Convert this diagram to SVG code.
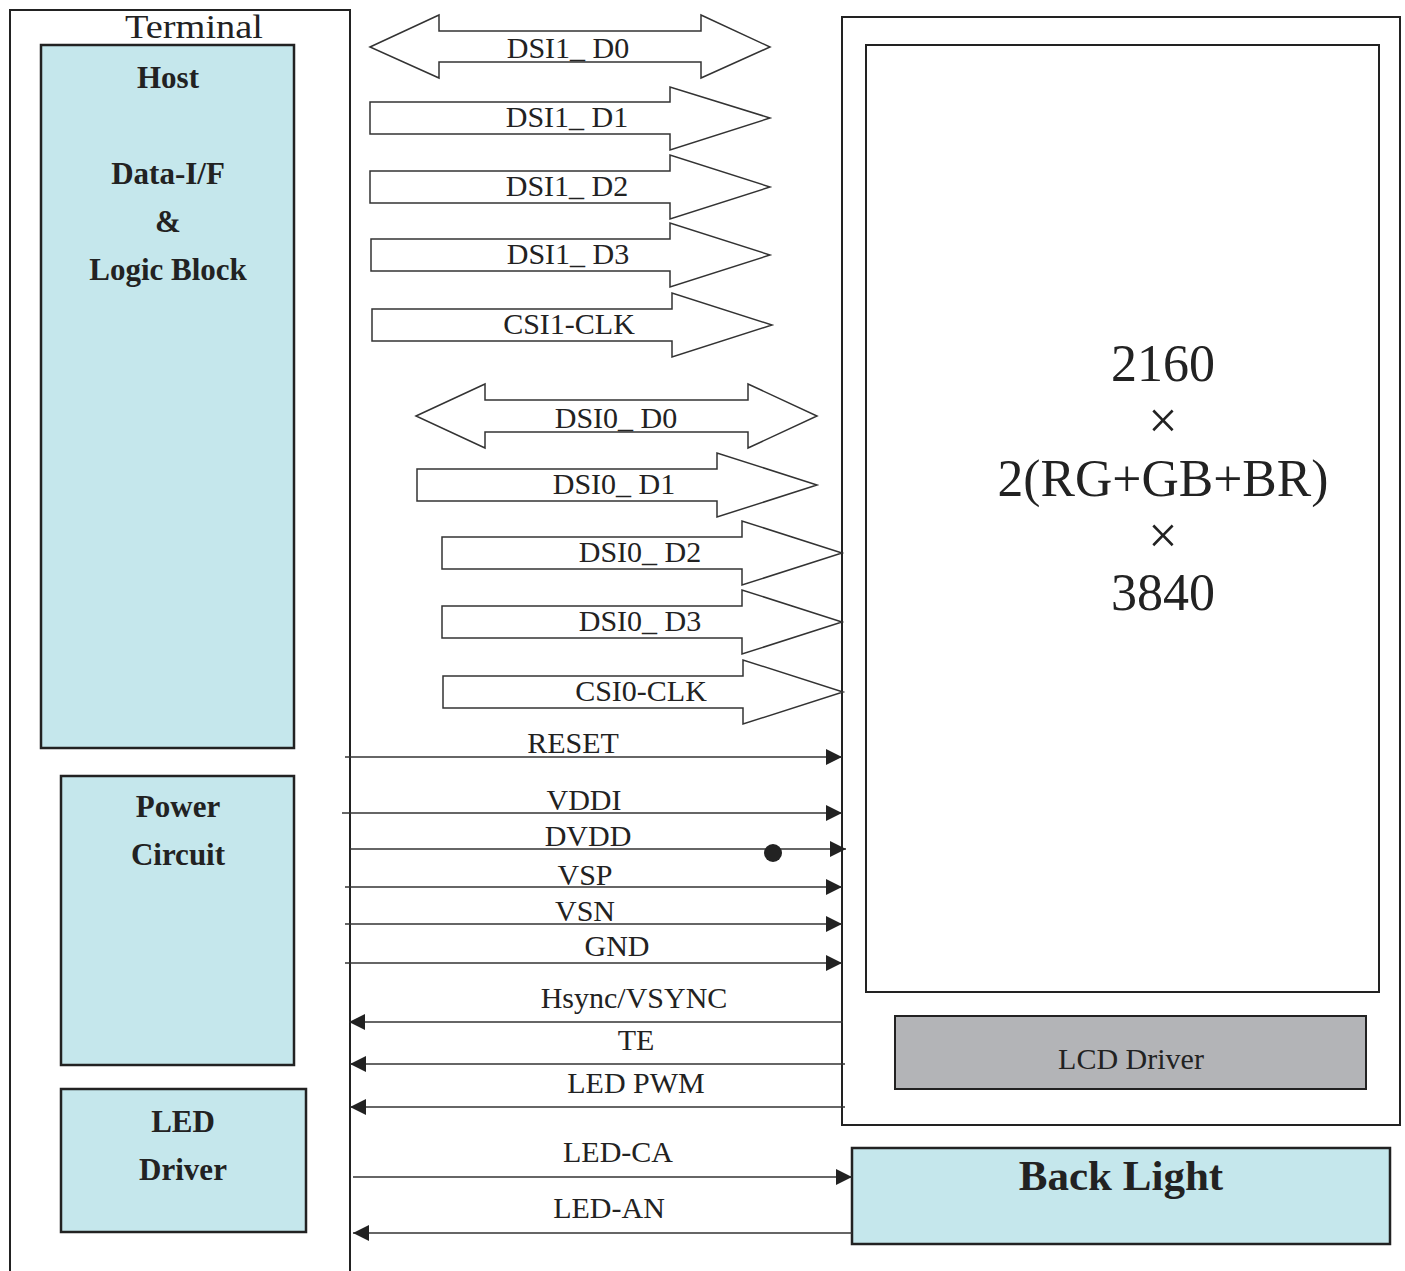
<svg xmlns="http://www.w3.org/2000/svg" width="1405" height="1271" viewBox="0 0 1405 1271">
<style>
.box{fill:#c5e7ec;stroke:#222;stroke-width:2.5}
.frame{fill:none;stroke:#222;stroke-width:2}
.big{fill:#fff;stroke:#333;stroke-width:1.5}
.ln{stroke:#333;stroke-width:1.6;fill:none}
.lbl{font-family:"Liberation Serif",serif;font-size:30px;fill:#222;text-anchor:middle}
.bold{font-family:"Liberation Serif",serif;font-weight:bold;font-size:31px;fill:#222;text-anchor:middle}
.num{font-family:"Liberation Serif",serif;font-size:52px;fill:#222;text-anchor:middle}
</style>
<defs>
<marker id="ah" viewBox="0 0 16 16" refX="16" refY="8" markerWidth="16" markerHeight="16" markerUnits="userSpaceOnUse" orient="auto">
<path d="M0,0 L16,8 L0,16 Z" fill="#222"/>
</marker>
</defs>
<rect width="1405" height="1271" fill="#fff"/>

<g id="terminal">
<rect class="frame" x="10" y="10" width="340" height="1275"/>
<text class="lbl" x="194" y="38" style="font-size:34px" textLength="138" lengthAdjust="spacingAndGlyphs">Terminal</text>
</g>

<g id="host">
<rect class="box" x="41" y="45" width="253" height="703"/>
<text class="bold" x="168" y="88">Host</text>
<text class="bold" x="168" y="184">Data-I/F</text>
<text class="bold" x="168" y="232">&amp;</text>
<text class="bold" x="168" y="280">Logic Block</text>
</g>

<g id="power">
<rect class="box" x="61" y="776" width="233" height="289"/>
<text class="bold" x="178" y="817">Power</text>
<text class="bold" x="178" y="865">Circuit</text>
</g>

<g id="led-driver">
<rect class="box" x="61" y="1089" width="245" height="143"/>
<text class="bold" x="183" y="1132">LED</text>
<text class="bold" x="183" y="1180">Driver</text>
</g>

<g id="panel">
<rect class="frame" x="842" y="17" width="558" height="1108"/>
<rect class="frame" x="866" y="45" width="513" height="947"/>
<text class="num" x="1163" y="381">2160</text>
<text class="num" x="1163" y="438">×</text>
<text class="num" x="1163" y="496" textLength="331" lengthAdjust="spacingAndGlyphs">2(RG+GB+BR)</text>
<text class="num" x="1163" y="553">×</text>
<text class="num" x="1163" y="610">3840</text>
</g>

<g id="lcd-driver">
<rect x="895" y="1016" width="471" height="73" fill="#b3b4b7" stroke="#222" stroke-width="2"/>
<text class="lbl" x="1131" y="1069">LCD Driver</text>
</g>

<g id="back-light">
<rect class="box" x="852" y="1148" width="538" height="96"/>
<text class="bold" x="1121" y="1190" style="font-size:43px">Back Light</text>
</g>

<g id="connectors">
<path class="big" d="M370,47 L439,15 L439,31 L701,31 L701,15 L770,47 L701,78 L701,62 L439,62 L439,78 Z"/>
<text class="lbl" x="568" y="58">DSI1_ D0</text>
<path class="big" d="M370,102 L670,102 L670,87 L770,118 L670,150 L670,134 L370,134 Z"/>
<text class="lbl" x="567" y="127">DSI1_ D1</text>
<path class="big" d="M370,171 L670,171 L670,155 L770,187 L670,219 L670,203 L370,203 Z"/>
<text class="lbl" x="567" y="196">DSI1_ D2</text>
<path class="big" d="M371,239 L670,239 L670,223 L770,255 L670,287 L670,271 L371,271 Z"/>
<text class="lbl" x="568" y="264">DSI1_ D3</text>
<path class="big" d="M372,309 L672,309 L672,293 L772,325 L672,357 L672,341 L372,341 Z"/>
<text class="lbl" x="569" y="334">CSI1-CLK</text>

<path class="big" d="M416,416 L485,384 L485,400 L748,400 L748,384 L817,416 L748,448 L748,432 L485,432 L485,448 Z"/>
<text class="lbl" x="616" y="428">DSI0_ D0</text>
<path class="big" d="M417,469 L717,469 L717,453 L817,485 L717,517 L717,501 L417,501 Z"/>
<text class="lbl" x="614" y="494">DSI0_ D1</text>
<path class="big" d="M442,537 L742,537 L742,521 L842,553 L742,585 L742,569 L442,569 Z"/>
<text class="lbl" x="640" y="562">DSI0_ D2</text>
<path class="big" d="M442,606 L742,606 L742,590 L842,622 L742,654 L742,638 L442,638 Z"/>
<text class="lbl" x="640" y="631">DSI0_ D3</text>
<path class="big" d="M443,676 L743,676 L743,660 L843,692 L743,724 L743,708 L443,708 Z"/>
<text class="lbl" x="641" y="701">CSI0-CLK</text>

<line class="ln" x1="345" y1="757" x2="842" y2="757" marker-end="url(#ah)"/>
<text class="lbl" x="573" y="753">RESET</text>
<line class="ln" x1="342" y1="813" x2="842" y2="813" marker-end="url(#ah)"/>
<text class="lbl" x="584" y="810">VDDI</text>
<line class="ln" x1="350" y1="849" x2="846" y2="849" marker-end="url(#ah)"/>
<circle cx="773" cy="853" r="9" fill="#222"/>
<text class="lbl" x="588" y="846">DVDD</text>
<line class="ln" x1="345" y1="887" x2="842" y2="887" marker-end="url(#ah)"/>
<text class="lbl" x="585" y="885">VSP</text>
<line class="ln" x1="345" y1="924" x2="842" y2="924" marker-end="url(#ah)"/>
<text class="lbl" x="585" y="921">VSN</text>
<line class="ln" x1="345" y1="963" x2="842" y2="963" marker-end="url(#ah)"/>
<text class="lbl" x="617" y="956">GND</text>

<line class="ln" x1="843" y1="1022" x2="349" y2="1022" marker-end="url(#ah)"/>
<text class="lbl" x="634" y="1008">Hsync/VSYNC</text>
<line class="ln" x1="845" y1="1064" x2="350" y2="1064" marker-end="url(#ah)"/>
<text class="lbl" x="636" y="1050">TE</text>
<line class="ln" x1="845" y1="1107" x2="350" y2="1107" marker-end="url(#ah)"/>
<text class="lbl" x="636" y="1093">LED PWM</text>

<line class="ln" x1="353" y1="1177" x2="852" y2="1177" marker-end="url(#ah)"/>
<text class="lbl" x="618" y="1162">LED-CA</text>
<line class="ln" x1="852" y1="1233" x2="353" y2="1233" marker-end="url(#ah)"/>
<text class="lbl" x="609" y="1218">LED-AN</text>
</g>
</svg>
